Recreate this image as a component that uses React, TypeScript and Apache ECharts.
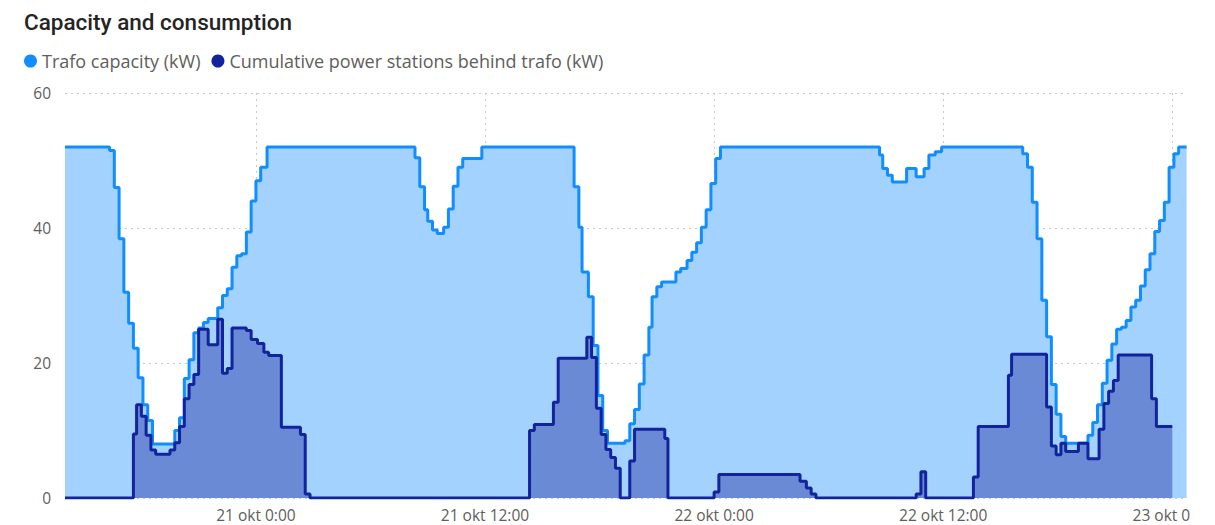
import React, { useEffect, useRef } from "react";
import * as echarts from "echarts";

// Time stamps ("day hh:mm", October) where the value changes, and the values
const capTimes = [
  "20 14:00","20 16:20","20 16:35","20 16:50","20 17:05","20 17:20","20 17:35","20 17:50","20 18:05","20 18:20",
  "20 18:35","20 19:45","20 20:00","20 20:15","20 20:30","20 20:45","20 21:00","20 21:15","20 21:30","20 22:00",
  "20 22:15","20 22:30","20 22:45","20 23:00","20 23:15","20 23:30","20 23:45","21 00:00","21 00:15","21 00:35",
  "21 08:20","21 08:35","21 08:50","21 09:00","21 09:15","21 09:30","21 09:50","21 10:05","21 10:20","21 10:35","21 10:50","21 11:50",
  "21 16:40","21 16:55","21 17:05","21 17:25","21 17:40","21 17:55","21 18:10","21 18:25","21 19:20","21 19:35",
  "21 19:50","21 20:05","21 20:20","21 20:35","21 20:45","21 21:00","21 21:15","21 22:00","21 22:15","21 22:35",
  "21 22:50","21 23:05","21 23:20","21 23:35","21 23:50","22 00:05","22 00:20",
  "22 08:40","22 08:50","22 09:05","22 09:20","22 10:05","22 10:35","22 11:00","22 11:15","22 11:35","22 11:55",
  "22 16:10","22 16:25","22 16:40","22 16:55","22 17:10","22 17:25","22 17:40","22 17:55","22 18:10","22 18:25",
  "22 19:35","22 19:50","22 20:05","22 20:20","22 20:35","22 20:50","22 21:05","22 21:20","22 21:35","22 21:50",
  "22 22:05","22 22:20","22 22:35","22 22:50","22 23:05","22 23:20","22 23:35","22 23:50","23 00:05","23 00:20","23 00:45",
];
const capValues = [
  52, 51.5, 46, 38.4, 30.5, 25.9, 22.2, 17.8, 13.8, 11.5,
  8, 10, 11.9, 17.7, 20.5, 24.5, 25.2, 26, 26.6, 28.2,
  30, 31, 34.2, 35.9, 36.2, 39.4, 44, 47, 49, 52,
  50.4, 46.1, 42.7, 41, 39.7, 39.2, 40.1, 42.8, 46.2, 49, 50.3, 52,
  46.1, 40.1, 33.5, 29.8, 22.6, 15.2, 10, 8.1, 8.5, 11,
  13.1, 16.9, 21.2, 25.3, 29.8, 31.3, 32, 33.5, 34, 35.2,
  36.4, 37.8, 40.1, 42.7, 46.6, 50.3, 52,
  50.8, 48.8, 47.8, 46.8, 48.8, 47.6, 48.8, 50.8, 51.3, 52,
  51, 49, 43.8, 38.4, 29.3, 23.9, 16.8, 12.4, 9.1, 8.1,
  9.3, 11.2, 13.8, 17, 20.4, 22.8, 25, 25.3, 26.3, 28.3,
  29.3, 31.4, 33.8, 36.2, 39.5, 41.1, 43.8, 49, 51, 52, 52,
];

const powTimes = [
  "20 14:00","20 17:35","20 17:45","20 18:00","20 18:15","20 18:30","20 18:45","20 19:30","20 19:45","20 20:00",
  "20 20:15","20 20:30","20 20:45","20 21:00","20 21:30","20 22:00","20 22:15","20 22:30","20 22:45","20 23:30",
  "20 23:45","21 00:05","21 00:25","21 00:40","21 01:20","21 02:20","21 02:35","21 02:50",
  "21 14:20","21 14:35","21 15:35","21 15:50","21 17:20","21 17:35","21 17:50","21 18:05","21 18:20","21 18:35",
  "21 18:50","21 19:05","21 19:35","21 19:50","21 21:25","21 21:35",
  "22 00:00","22 00:15","22 04:30","22 04:50","22 05:05","22 05:20","22 10:35","22 10:50","22 11:05",
  "22 13:35","22 13:50","22 15:25","22 15:35","22 17:25","22 17:40","22 17:55","22 18:10","22 18:25","22 19:05",
  "22 19:35","22 20:10","22 20:25","22 20:40","22 20:55","22 21:10","22 22:55","22 23:10","23 00:00",
];
const powValues = [
  0, 9.5, 13.8, 12.1, 9.3, 7.1, 6.5, 7.1, 8.2, 10.6,
  14.7, 16.8, 18.3, 25, 22.7, 26.5, 18.5, 19.2, 25.2, 24.8,
  23.5, 22.9, 21.6, 21.1, 10.5, 9.4, 0.6, 0,
  10, 10.9, 14.2, 20.7, 23.8, 20.8, 13.3, 9.4, 7.2, 6,
  4.4, 0, 5.5, 10.2, 8.8, 0,
  0.9, 3.5, 2.5, 1.5, 0.6, 0, 0.6, 3.9, 0,
  3.1, 10.6, 18.2, 21.3, 13.5, 7.7, 6.4, 8.1, 6.9, 8.1,
  5.8, 10.2, 14, 15.8, 17.4, 21.2, 14.7, 10.6, 10.6,
];

const seriesNames = ["Trafo capacity (kW)", "Cumulative power stations behind trafo (kW)"];
const axisStart = "20 14:00";
const axisEnd = "23 00:45";
const xTickTimes = ["21 00:00", "21 12:00", "22 00:00", "22 12:00", "23 00:00"];
const yTicks = [0, 20, 40, 60];

const toTs = (s: string) => {
  const [d, hm] = s.split(" ");
  const [h, m] = hm.split(":");
  return new Date(2023, 9, +d, +h, +m).getTime();
};
const pairs = (t: string[], v: number[]) => t.map((s, i) => [toTs(s), v[i]]);

export default function App() {
  const ref = useRef<HTMLDivElement>(null);
  useEffect(() => {
    if (!ref.current) return;
    const chart = echarts.init(ref.current, undefined, { renderer: "svg" });
    const capData = pairs(capTimes, capValues);
    const powData = pairs(powTimes, powValues);
    const xTicks = xTickTimes.map(toTs);
    const grid = { type: [2, 4] as any, color: "#C8C8C8", width: 1 };
    const font = "'Open Sans', 'Noto Sans', sans-serif";
    chart.setOption({
      animation: false,
      title: {
        text: "Capacity and consumption",
        left: 19,
        top: 5,
        textStyle: { fontSize: 22.5, fontWeight: 500, color: "#252423", fontFamily: "Roboto, sans-serif" },
      },
      legend: {
        left: 19,
        top: 47,
        icon: "circle",
        itemWidth: 13,
        itemHeight: 13,
        itemGap: 11,
        data: seriesNames,
        textStyle: { color: "#605E5C", fontSize: 18, fontFamily: font },
      },
      grid: { left: 65, right: 28, top: 93, bottom: 27 },
      xAxis: {
        type: "value",
        min: toTs(axisStart),
        max: toTs(axisEnd),
        axisLine: { show: false },
        axisTick: { show: false, customValues: xTicks },
        splitLine: { show: true, lineStyle: grid },
        axisLabel: {
          customValues: xTicks,
          color: "#605E5C",
          fontSize: 15.5,
          fontFamily: font,
          margin: 9,
          formatter: (val: number) => {
            const d = new Date(val);
            return `${d.getDate()} okt ${d.getHours()}:${String(d.getMinutes()).padStart(2, "0")}`;
          },
        },
      },
      yAxis: {
        type: "value",
        min: yTicks[0],
        max: yTicks[yTicks.length - 1],
        interval: yTicks[1] - yTicks[0],
        axisLine: { show: false },
        axisTick: { show: false },
        splitLine: { show: true, lineStyle: grid },
        axisLabel: { color: "#605E5C", fontSize: 15.5, fontFamily: font, margin: 14 },
      },
      series: [
        {
          name: seriesNames[0], type: "line", step: "end", data: capData, symbol: "none",
          itemStyle: { color: "#118DFF" }, lineStyle: { width: 0 },
          areaStyle: { color: "#A3D2FF", opacity: 1 }, z: 1,
        },
        {
          name: seriesNames[1], type: "line", step: "end", data: powData, symbol: "none",
          itemStyle: { color: "#12239E" }, lineStyle: { width: 0 },
          areaStyle: { color: "#6A8AD6", opacity: 1 }, z: 2,
        },
        {
          name: seriesNames[0], type: "line", step: "end", data: capData, symbol: "none",
          itemStyle: { color: "#118DFF" }, lineStyle: { width: 3, color: "#118DFF" }, z: 3,
        },
        {
          name: seriesNames[1], type: "line", step: "end", data: powData, symbol: "none",
          itemStyle: { color: "#12239E" }, lineStyle: { width: 3, color: "#12239E" }, z: 4,
        },
      ],
    });
    return () => chart.dispose();
  }, []);
  return (
    <div style={{ position: "fixed", left: 0, top: 0, width: 1190, height: 525, overflow: "hidden", background: "#fff" }}>
      <div ref={ref} style={{ width: 1215, height: 525 }} />
    </div>
  );
}
